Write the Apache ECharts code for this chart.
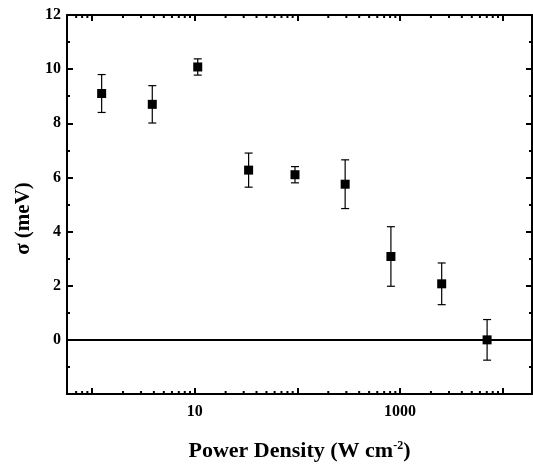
<!DOCTYPE html>
<html>
<head>
<meta charset="utf-8">
<script src="https://cdn.jsdelivr.net/npm/echarts@6/dist/echarts.min.js"></script>
<style>
html,body{margin:0;padding:0;background:#fff;}
#chart{width:533px;height:470px;}
</style>
</head>
<body>
<div id="chart"></div>
<script>
// Data
const powerDensity = [1.24, 3.86, 10.7, 33.5, 94.8, 292, 815, 2546, 7050];
const sigma = [9.1, 8.7, 10.08, 6.27, 6.1, 5.75, 3.08, 2.07, 0.0];
const sigmaErr = [0.7, 0.69, 0.3, 0.63, 0.3, 0.9, 1.1, 0.77, 0.75];
const xTickLabels = ['10', '1000'];
const yTickLabels = ['0', '2', '4', '6', '8', '10', '12'];
const xMinorTicks = [0.7, 0.8, 0.9, 2, 3, 4, 5, 6, 7, 8, 9, 20, 30, 40, 50, 60, 70, 80, 90,
  200, 300, 400, 500, 600, 700, 800, 900, 2000, 3000, 4000, 5000, 6000, 7000, 8000, 9000];
const xRange = [0.57, 19300];
const yRange = [-2, 12];

const FONT = 'Liberation Serif';
const chart = echarts.init(document.getElementById('chart'), null, {renderer: 'canvas'});

const scatterData = powerDensity.map((x, i) => [x, sigma[i]]);
const errData = powerDensity.map((x, i) => [x, sigma[i] - sigmaErr[i], sigma[i] + sigmaErr[i]]);

function xLabelFmt(v) {
  const r = Math.round(v);
  if (Math.abs(v - r) < 1e-6 * Math.max(1, r) && xTickLabels.indexOf(String(r)) >= 0) return String(r);
  return '';
}
function yLabelFmt(v) {
  const s = String(Math.round(v));
  return yTickLabels.indexOf(s) >= 0 ? s : '';
}

const axisLineStyle = {color: '#000', width: 2};
const tickStyle = {color: '#000', width: 2};

const option = {
  animation: false,
  backgroundColor: '#fff',
  grid: {left: 67, right: 1, top: 15, bottom: 76, containLabel: false},
  xAxis: [
    {
      type: 'log', logBase: 10, min: xRange[0], max: xRange[1], position: 'bottom',
      axisLine: {show: true, onZero: false, lineStyle: axisLineStyle},
      axisTick: {show: true, inside: true, length: 6, lineStyle: tickStyle},
      axisLabel: {show: true, margin: 10, formatter: xLabelFmt, showMinLabel: false, showMaxLabel: false,
        color: '#000', fontFamily: FONT, fontWeight: 'bold', fontSize: 16},
      splitLine: {show: false},
      name: '{b|Power Density (W cm}{sup|-2}{b|)}',
      nameLocation: 'middle', nameGap: 46,
      nameTextStyle: {
        rich: {
          b: {fontFamily: FONT, fontWeight: 'bold', fontSize: 22, color: '#000'},
          sup: {fontFamily: FONT, fontWeight: 'bold', fontSize: 12, color: '#000', verticalAlign: 'top', padding: [0, 0, 0, 0]}
        }
      }
    },
    {
      type: 'log', logBase: 10, min: xRange[0], max: xRange[1], position: 'top',
      axisLine: {show: true, onZero: false, lineStyle: axisLineStyle},
      axisTick: {show: true, inside: true, length: 6, lineStyle: tickStyle},
      axisLabel: {show: false},
      splitLine: {show: false}
    }
  ],
  yAxis: [
    {
      type: 'value', min: yRange[0], max: yRange[1], interval: 2, position: 'left',
      axisLine: {show: true, onZero: false, lineStyle: axisLineStyle},
      axisTick: {show: true, inside: true, length: 6, lineStyle: tickStyle},
      minorTick: {show: true, splitNumber: 2, length: 3, lineStyle: tickStyle},
      axisLabel: {show: true, margin: 6, formatter: yLabelFmt,
        color: '#000', fontFamily: FONT, fontWeight: 'bold', fontSize: 16},
      splitLine: {show: false},
      minorSplitLine: {show: false},
      name: 'σ (meV)', nameLocation: 'middle', nameGap: 33, nameRotate: 90,
      nameTextStyle: {fontFamily: FONT, fontWeight: 'bold', fontSize: 21, color: '#000', padding: [0, 28, 0, 0]}
    },
    {
      type: 'value', min: yRange[0], max: yRange[1], interval: 2, position: 'right',
      axisLine: {show: true, onZero: false, lineStyle: axisLineStyle},
      axisTick: {show: true, inside: true, length: 6, lineStyle: tickStyle},
      minorTick: {show: true, splitNumber: 2, length: 3, lineStyle: tickStyle},
      axisLabel: {show: false},
      splitLine: {show: false},
      minorSplitLine: {show: false}
    }
  ],
  series: [
    {
      type: 'custom', name: 'minorTicks', xAxisIndex: 0, yAxisIndex: 0, silent: true, z: 1,
      data: xMinorTicks.map(v => [v]),
      renderItem: function (params, api) {
        const v = api.value(0);
        const b = api.coord([v, yRange[0]]);
        const t = api.coord([v, yRange[1]]);
        return {
          type: 'group',
          children: [
            {type: 'line', shape: {x1: b[0], y1: b[1], x2: b[0], y2: b[1] - 3}, style: {stroke: '#000', lineWidth: 2}},
            {type: 'line', shape: {x1: t[0], y1: t[1], x2: t[0], y2: t[1] + 3}, style: {stroke: '#000', lineWidth: 2}}
          ]
        };
      },
      clip: false
    },
    {
      type: 'custom', name: 'errors', xAxisIndex: 0, yAxisIndex: 0, z: 2,
      data: errData,
      renderItem: function (params, api) {
        const x = api.value(0);
        const lo = api.coord([x, api.value(1)]);
        const hi = api.coord([x, api.value(2)]);
        const cap = 4;
        const st = {stroke: '#000', lineWidth: 1.2};
        return {
          type: 'group',
          children: [
            {type: 'line', shape: {x1: lo[0], y1: lo[1], x2: hi[0], y2: hi[1]}, style: st},
            {type: 'line', shape: {x1: hi[0] - cap, y1: hi[1], x2: hi[0] + cap, y2: hi[1]}, style: st},
            {type: 'line', shape: {x1: lo[0] - cap, y1: lo[1], x2: lo[0] + cap, y2: lo[1]}, style: st}
          ]
        };
      }
    },
    {
      type: 'scatter', name: 'sigma', xAxisIndex: 0, yAxisIndex: 0, z: 3,
      symbol: 'rect', symbolSize: 9,
      itemStyle: {color: '#000', opacity: 1},
      data: scatterData,
      markLine: {
        silent: true, symbol: ['none', 'none'],
        label: {show: false},
        lineStyle: {color: '#000', width: 2, type: 'solid', opacity: 1},
        data: [{yAxis: 0}]
      }
    }
  ]
};
chart.setOption(option);
</script>
</body>
</html>
